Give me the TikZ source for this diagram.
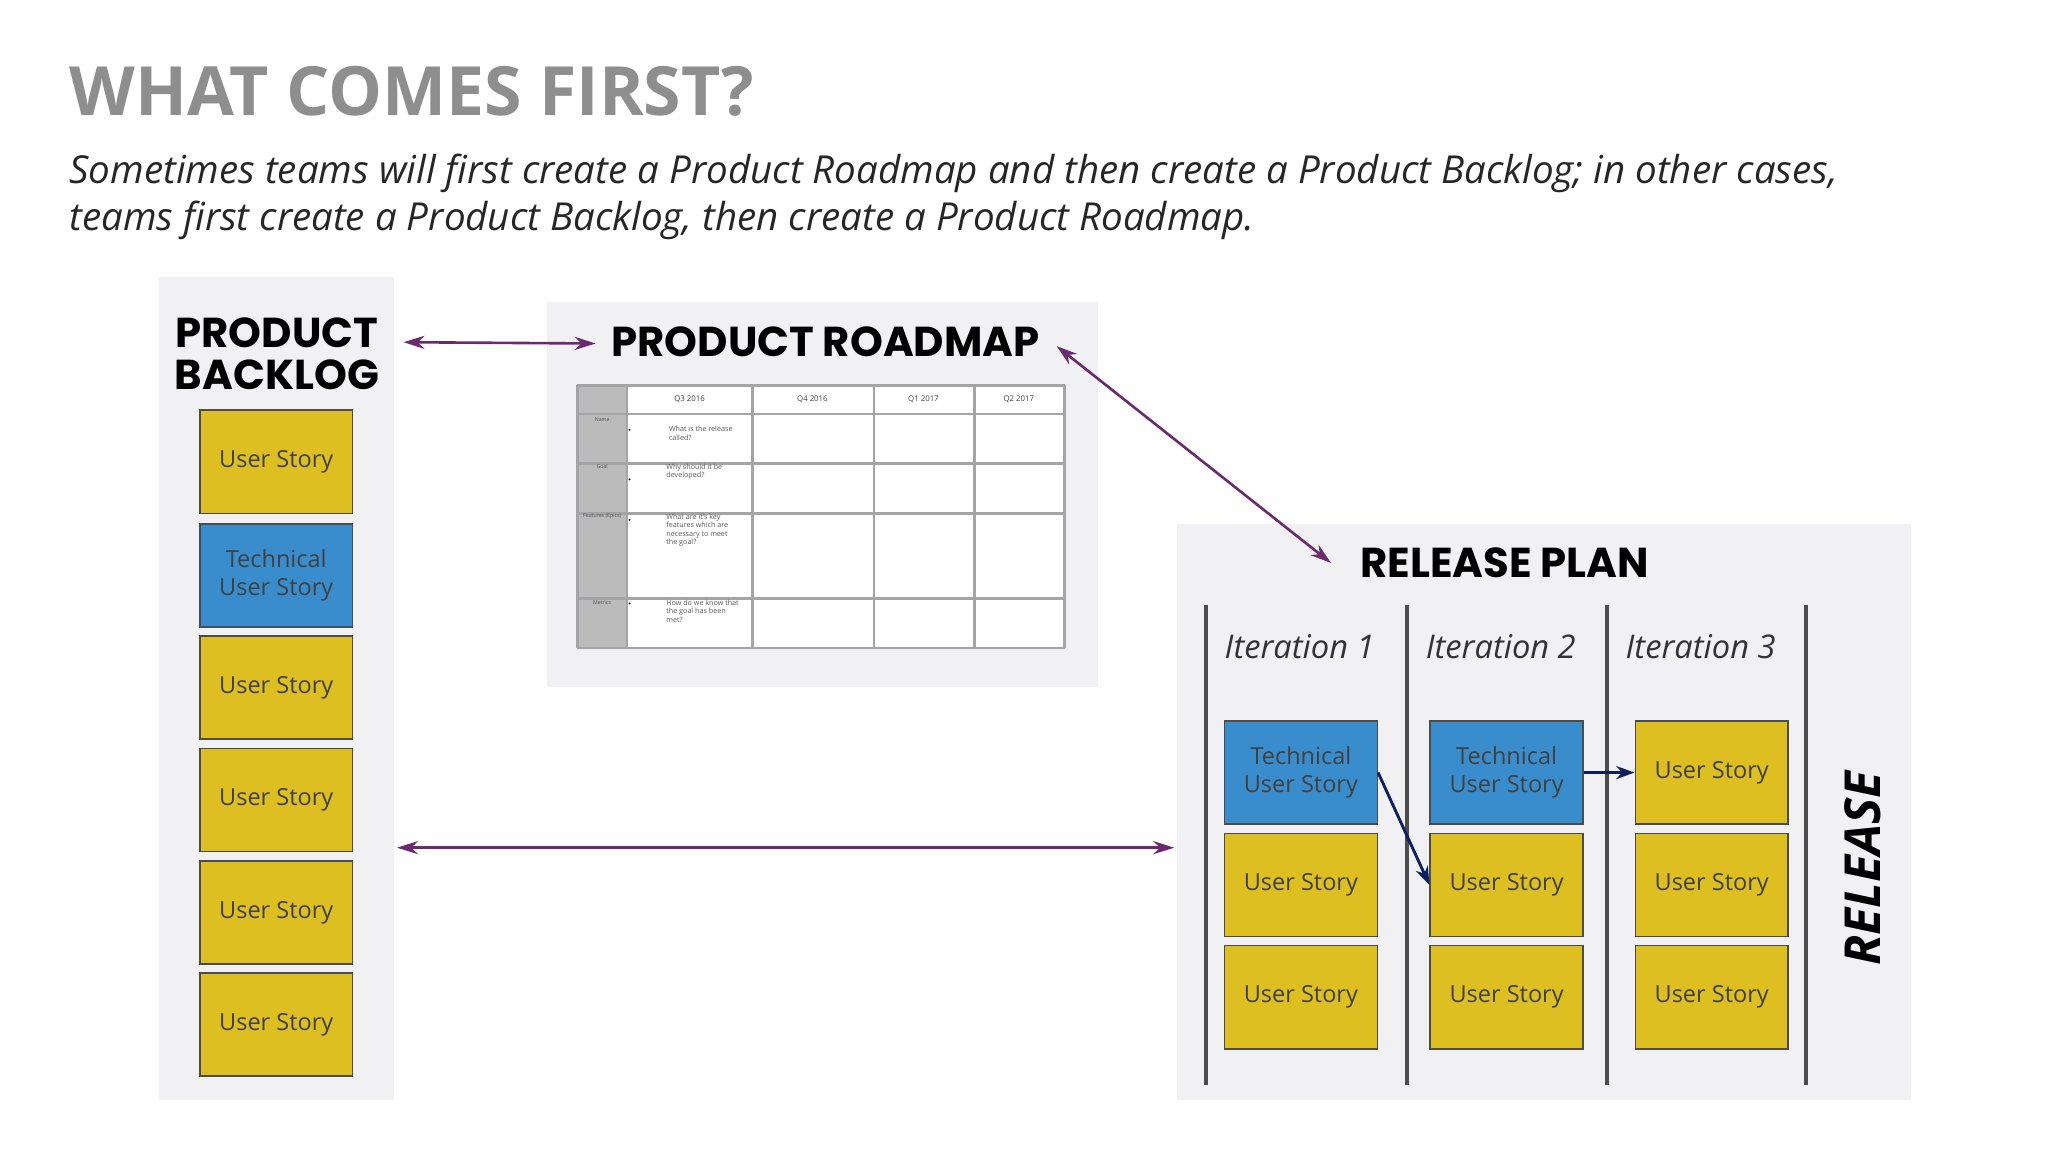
\documentclass[tikz,border=0pt]{standalone}
\usepackage{fontspec}
\setmainfont{Open Sans}
\newfontfamily\heavy{Poppins}
\usetikzlibrary{arrows.meta}
\definecolor{panel}{HTML}{F1F1F3}
\definecolor{yel}{HTML}{DDBF22}
\definecolor{blu}{HTML}{3A8DCD}
\definecolor{purp}{HTML}{6B2A6E}
\definecolor{navy}{HTML}{0D1F5E}
\definecolor{tgray}{HTML}{8E8E8E}
\definecolor{tline}{HTML}{A4A4A6}
\begin{document}
\begin{tikzpicture}[x=1pt,y=-1pt,
  panel/.style={fill=panel,draw=none},
  card/.style={draw=black!70,line width=1.2pt,minimum width=117pt,minimum height=79pt,inner sep=0pt,align=center,text=black!75,font=\fontsize{18}{21}\selectfont},
  us/.style={card,fill=yel},
  tus/.style={card,fill=blu},
  head/.style={font=\heavy\bfseries\fontsize{32}{36}\selectfont,align=center,inner sep=0pt},
  iter/.style={font=\itshape\fontsize{25}{28}\selectfont,text=black!80},
  pa/.style={purp,line width=2pt,{Stealth[length=16pt,width=10pt]}-{Stealth[length=16pt,width=10pt]}},
  na/.style={navy,line width=2.2pt,-{Stealth[length=14pt,width=10pt]}},
  tl/.style={draw=tline,line width=2pt},
  tiny/.style={font=\fontsize{5.5}{6.5}\selectfont,text=black!65,align=left,inner sep=0pt,anchor=north west}]
\useasboundingbox[fill=white] (0,0) rectangle (1568,882);
% title
\node[anchor=west,inner sep=0pt,text=tgray,font=\bfseries\fontsize{52}{60}\selectfont] (title) at (53,70) {WHAT COMES FIRST?};
\node[anchor=north west,inner sep=0pt,align=left,font=\itshape\fontsize{29.5}{36}\selectfont,text=black!85] (sub) at (53,118)
 {Sometimes teams will first create a Product Roadmap and then create a Product Backlog; in other cases,\\teams first create a Product Backlog, then create a Product Roadmap.};
% panels
\fill[panel] (122,212) rectangle (302,842);
\fill[panel] (419,231) rectangle (841,526);
\fill[panel] (901,401) rectangle (1463,842);
% backlog
\node[head] (pb) at (212,271) {PRODUCT\\[-4pt]BACKLOG};
\node[us]  (b1) at (211.5,353.5) {User Story};
\node[tus] (b2) at (211.5,440.5) {Technical\\User Story};
\node[us]  (b3) at (211.5,526.5) {User Story};
\node[us]  (b4) at (211.5,612.5) {User Story};
\node[us]  (b5) at (211.5,698.5) {User Story};
\node[us]  (b6) at (211.5,784.5) {User Story};
% roadmap
\node[head] (pr) at (632,262) {PRODUCT ROADMAP};
\fill[white] (442,295) rectangle (815,496);
\fill[tline!75] (442,295) rectangle (480,496);
\foreach \x in {442,480,576,669,746,815} \draw[tl] (\x,295) -- (\x,496);
\foreach \y in {295,317,355,393,458,496} \draw[tl] (442,\y) -- (815,\y);
\node[font=\fontsize{6}{7}\selectfont,text=black!75] (q1) at (528,306) {Q3 2016};
\node[font=\fontsize{6}{7}\selectfont,text=black!75] (q2) at (622,306) {Q4 2016};
\node[font=\fontsize{6}{7}\selectfont,text=black!75] (q3) at (707,306) {Q1 2017};
\node[font=\fontsize{6}{7}\selectfont,text=black!75] (q4) at (780,306) {Q2 2017};
\node[font=\fontsize{4}{5}\selectfont,text=black!70] (r1) at (461,321) {Name};
\node[font=\fontsize{4}{5}\selectfont,text=black!70] (r2) at (461,357) {Goal};
\node[font=\fontsize{4}{5}\selectfont,text=black!70] (r3) at (461,395) {Features (Epics)};
\node[font=\fontsize{4}{5}\selectfont,text=black!70] (r4) at (461,461) {Metrics};
\foreach \y in {329,367,398,462} \fill[black] (482,\y) circle (0.8);
\node[tiny] (t1) at (512,326) {What is the release\\called?};
\node[tiny] (t2) at (510,355) {Why should it be\\developed?};
\node[tiny] (t3) at (510,393) {What are it's key\\features which are\\necessary to meet\\the goal?};
\node[tiny] (t4) at (510,459) {How do we know that\\the goal has been\\met?};
% release plan
\node[head] (rp) at (1152,431) {RELEASE PLAN};
\foreach \x in {923,1077,1230,1383} \draw[black!70,line width=3pt] (\x,463) -- (\x,831);
\node[iter] (i1) at (995,495) {Iteration 1};
\node[iter] (i2) at (1149,495) {Iteration 2};
\node[iter] (i3) at (1302,495) {Iteration 3};
\node[tus] (c11) at (996,591.5) {Technical\\User Story};
\node[us]  (c12) at (996,677.5) {User Story};
\node[us]  (c13) at (996,763.5) {User Story};
\node[tus] (c21) at (1153.5,591.5) {Technical\\User Story};
\node[us]  (c22) at (1153.5,677.5) {User Story};
\node[us]  (c23) at (1153.5,763.5) {User Story};
\node[us]  (c31) at (1310.5,591.5) {User Story};
\node[us]  (c32) at (1310.5,677.5) {User Story};
\node[us]  (c33) at (1310.5,763.5) {User Story};
\node[rotate=90,font=\bfseries\itshape\fontsize{38}{40}\selectfont,inner sep=0pt] (rel) at (1426,665) {RELEASE};
% arrows
\draw[na] (c11.east) -- (c22.west);
\draw[na] (c21.east) -- (c31.west);
\coordinate (a1) at (309,262); \coordinate (a2) at (456,263);
\coordinate (a3) at (809,265); \coordinate (a4) at (1019,431);
\coordinate (a5) at (304,649); \coordinate (a6) at (899,649);
\draw[pa] (a1) -- (a2);
\draw[pa] (a3) -- (a4);
\draw[pa] (a5) -- (a6);
\end{tikzpicture}
\end{document}
